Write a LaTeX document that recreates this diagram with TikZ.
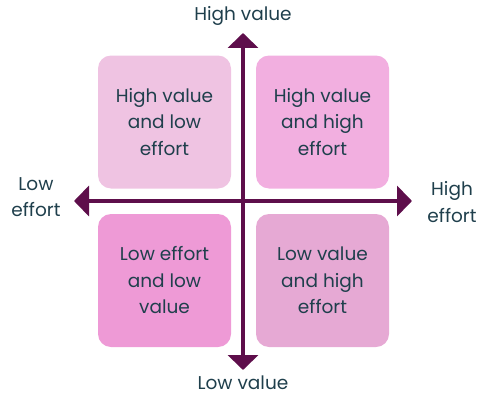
\documentclass[tikz,border=0pt]{standalone}
\usepackage{fontspec}
\setmainfont{Poppins}
\usetikzlibrary{arrows.meta}

\definecolor{ink}{HTML}{1F3F4C}
\definecolor{axis}{HTML}{5E0E4B}
\definecolor{quadA}{HTML}{EFC3E2}
\definecolor{quadB}{HTML}{F2AFE0}
\definecolor{quadC}{HTML}{EE9AD6}
\definecolor{quadD}{HTML}{E6A9D4}

\tikzset{
  quad/.style={rounded corners=13pt,minimum width=133pt,minimum height=133pt,
    inner sep=0pt,align=center,text=ink,font=\fontsize{18.5}{26.5}\selectfont},
  lbl/.style={align=center,inner sep=0pt,text=ink,font=\fontsize{18.5}{26.5}\selectfont},
  axisline/.style={axis,line width=4pt,-{Triangle[width=30pt,length=15pt]}}
}

\begin{document}
\begin{tikzpicture}[x=1pt,y=-1pt]
\useasboundingbox (0,0) rectangle (481,396);
% the four quadrants
\node[quad,fill=quadA] (hvle) at (164.5,122) {High value\\and low\\effort};
\node[quad,fill=quadB] (hvhe) at (322.5,122) {High value\\and high\\effort};
\node[quad,fill=quadC] (lelv) at (164.5,280.5) {Low effort\\and low\\value};
\node[quad,fill=quadD] (lvhe) at (322.5,280.5) {Low value\\and high\\effort};

% axes
\coordinate (o) at (243,201);
\coordinate (up) at (243,33);
\coordinate (down) at (243,370);
\coordinate (left) at (74,201);
\coordinate (right) at (412,201);
\draw[axisline] (o) -- (up);
\draw[axisline] (o) -- (down);
\draw[axisline] (o) -- (left);
\draw[axisline] (o) -- (right);

\node[lbl] (hv) at (243,16) {High value};
\node[lbl] (lv) at (243,383) {Low value};
\node[lbl] (le) at (36,197) {Low\\effort};
\node[lbl] (he) at (452,202) {High\\effort};
\end{tikzpicture}
\end{document}
